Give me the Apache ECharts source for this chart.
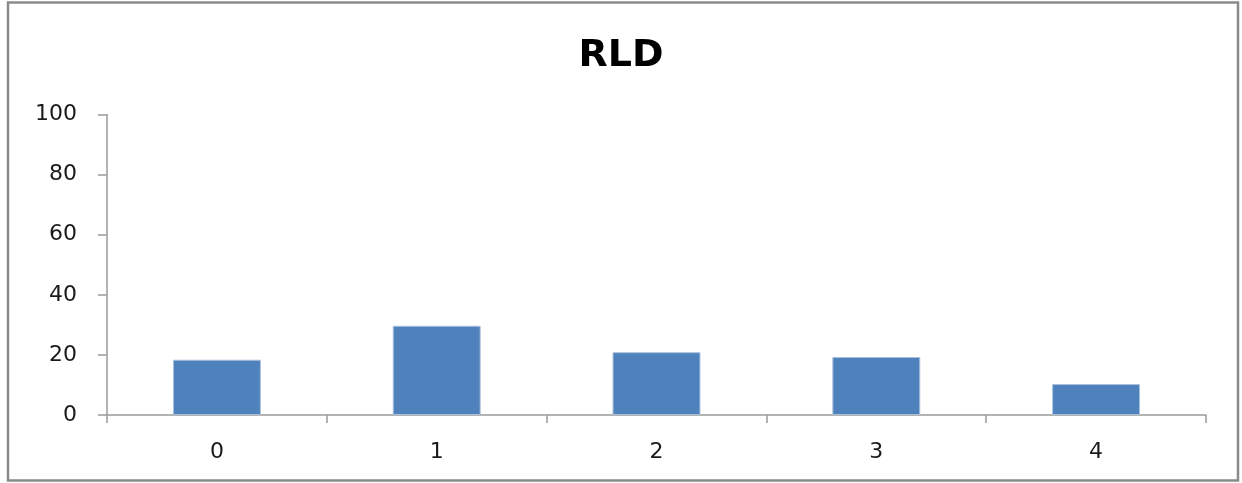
<!DOCTYPE html>
<html>
<head>
<meta charset="utf-8">
<title>RLD</title>
<script src="https://cdn.jsdelivr.net/npm/echarts@6/dist/echarts.min.js"></script>
<style>
  html, body { margin: 0; padding: 0; background: #ffffff; }
  #chart { width: 1242px; height: 483px; }
</style>
</head>
<body>
<div id="chart"></div>
<script>
// Chart data
const titleText = 'RLD';
const categories = ['0', '1', '2', '3', '4'];
const values = [18.4, 29.7, 20.9, 19.3, 10.3];
const yTicks = { min: 0, max: 100, interval: 20 };

const chart = echarts.init(document.getElementById('chart'), null, { renderer: 'canvas' });

const axisGray = '#9a9a9a';
const labelFont = { color: '#1a1a1a', fontFamily: 'DejaVu Sans', fontSize: 22 };

chart.setOption({
  backgroundColor: '#ffffff',
  animation: false,
  title: {
    text: titleText,
    left: 'center',
    top: 32,
    textStyle: { fontFamily: 'DejaVu Sans', fontWeight: 'bold', fontSize: 38, color: '#000000' }
  },
  graphic: [{
    type: 'rect',
    shape: { x: 8, y: 2.5, width: 1230, height: 478 },
    style: { fill: 'none', stroke: '#8a8a8a', lineWidth: 2.5 },
    silent: true
  }],
  grid: { left: 107, right: 36, top: 114.5, bottom: 68, containLabel: false },
  xAxis: {
    type: 'category',
    data: categories,
    boundaryGap: true,
    axisLine: { lineStyle: { color: axisGray, width: 1.5 } },
    axisTick: { show: true, alignWithLabel: false, length: 8, lineStyle: { color: axisGray, width: 1.5 } },
    axisLabel: Object.assign({ margin: 26 }, labelFont),
    splitLine: { show: false }
  },
  yAxis: {
    type: 'value',
    min: yTicks.min,
    max: yTicks.max,
    interval: yTicks.interval,
    axisLine: { show: true, lineStyle: { color: axisGray, width: 1.5 } },
    axisTick: { show: true, length: 9, lineStyle: { color: axisGray, width: 1.5 } },
    axisLabel: Object.assign({ margin: 30 }, labelFont),
    splitLine: { show: false }
  },
  series: [{
    type: 'bar',
    data: values,
    barCategoryGap: '60%',
    itemStyle: { color: '#4f81bd', borderColor: '#a9c0dd', borderWidth: 1 }
  }]
});
</script>
</body>
</html>
